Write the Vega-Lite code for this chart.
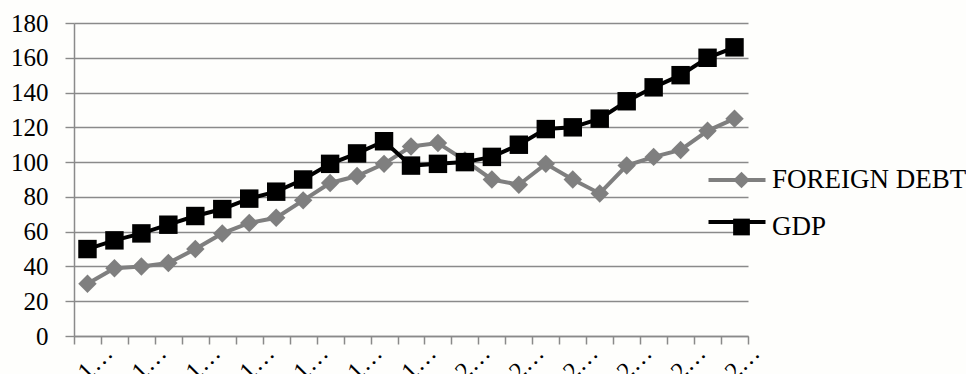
{
  "$schema": "https://vega.github.io/schema/vega-lite/v6.json",
  "width": 674,
  "height": 313,
  "autosize": {"type": "none"},
  "padding": {"left": 74, "top": 23, "right": 218, "bottom": 38},
  "background": "#fefefc",
  "config": {"view": {"stroke": null}, "font": "Liberation Serif, Times New Roman, serif"},
  "data": {
    "values": [
      {"year": "1986", "series": "FOREIGN DEBT", "value": 30},
      {"year": "1987", "series": "FOREIGN DEBT", "value": 39},
      {"year": "1988", "series": "FOREIGN DEBT", "value": 40},
      {"year": "1989", "series": "FOREIGN DEBT", "value": 42},
      {"year": "1990", "series": "FOREIGN DEBT", "value": 50},
      {"year": "1991", "series": "FOREIGN DEBT", "value": 59},
      {"year": "1992", "series": "FOREIGN DEBT", "value": 65},
      {"year": "1993", "series": "FOREIGN DEBT", "value": 68},
      {"year": "1994", "series": "FOREIGN DEBT", "value": 78},
      {"year": "1995", "series": "FOREIGN DEBT", "value": 88},
      {"year": "1996", "series": "FOREIGN DEBT", "value": 92},
      {"year": "1997", "series": "FOREIGN DEBT", "value": 99},
      {"year": "1998", "series": "FOREIGN DEBT", "value": 109},
      {"year": "1999", "series": "FOREIGN DEBT", "value": 111},
      {"year": "2000", "series": "FOREIGN DEBT", "value": 101},
      {"year": "2001", "series": "FOREIGN DEBT", "value": 90},
      {"year": "2002", "series": "FOREIGN DEBT", "value": 87},
      {"year": "2003", "series": "FOREIGN DEBT", "value": 99},
      {"year": "2004", "series": "FOREIGN DEBT", "value": 90},
      {"year": "2005", "series": "FOREIGN DEBT", "value": 82},
      {"year": "2006", "series": "FOREIGN DEBT", "value": 98},
      {"year": "2007", "series": "FOREIGN DEBT", "value": 103},
      {"year": "2008", "series": "FOREIGN DEBT", "value": 107},
      {"year": "2009", "series": "FOREIGN DEBT", "value": 118},
      {"year": "2010", "series": "FOREIGN DEBT", "value": 125},
      {"year": "1986", "series": "GDP", "value": 50},
      {"year": "1987", "series": "GDP", "value": 55},
      {"year": "1988", "series": "GDP", "value": 59},
      {"year": "1989", "series": "GDP", "value": 64},
      {"year": "1990", "series": "GDP", "value": 69},
      {"year": "1991", "series": "GDP", "value": 73},
      {"year": "1992", "series": "GDP", "value": 79},
      {"year": "1993", "series": "GDP", "value": 83},
      {"year": "1994", "series": "GDP", "value": 90},
      {"year": "1995", "series": "GDP", "value": 99},
      {"year": "1996", "series": "GDP", "value": 105},
      {"year": "1997", "series": "GDP", "value": 112},
      {"year": "1998", "series": "GDP", "value": 98},
      {"year": "1999", "series": "GDP", "value": 99},
      {"year": "2000", "series": "GDP", "value": 100},
      {"year": "2001", "series": "GDP", "value": 103},
      {"year": "2002", "series": "GDP", "value": 110},
      {"year": "2003", "series": "GDP", "value": 119},
      {"year": "2004", "series": "GDP", "value": 120},
      {"year": "2005", "series": "GDP", "value": 125},
      {"year": "2006", "series": "GDP", "value": 135},
      {"year": "2007", "series": "GDP", "value": 143},
      {"year": "2008", "series": "GDP", "value": 150},
      {"year": "2009", "series": "GDP", "value": 160},
      {"year": "2010", "series": "GDP", "value": 166}
    ]
  },
  "encoding": {
    "x": {
      "field": "year",
      "type": "ordinal",
      "scale": {"type": "band", "paddingInner": 0, "paddingOuter": 0},
      "axis": {
        "title": null,
        "tickBand": "extent",
        "domainColor": "#8a8a8a",
        "domainWidth": 1.5,
        "tickColor": "#8a8a8a",
        "tickWidth": 1.5,
        "tickSize": 8,
        "labelAngle": -45,
        "labelOffset": 12,
        "labelPadding": -4,
        "labelFont": "Liberation Serif, Times New Roman, serif",
        "labelFontSize": 25,
        "labelColor": "#000000",
        "labelLimit": 42,
        "labelExpr": "toNumber(datum.value) % 2 === 0 ? datum.label : ''",
        "grid": false
      }
    },
    "y": {
      "field": "value",
      "type": "quantitative",
      "scale": {"domain": [0, 180], "nice": false},
      "axis": {
        "title": null,
        "values": [0, 20, 40, 60, 80, 100, 120, 140, 160, 180],
        "grid": true,
        "gridColor": "#8a8a8a",
        "gridWidth": 1.4,
        "domainColor": "#8a8a8a",
        "domainWidth": 1.5,
        "tickColor": "#8a8a8a",
        "tickWidth": 1.4,
        "tickSize": 9,
        "labelPadding": 17,
        "labelFont": "Liberation Serif, Times New Roman, serif",
        "labelFontSize": 25,
        "labelColor": "#000000"
      }
    }
  },
  "layer": [
    {
      "mark": {"type": "line", "strokeWidth": 4},
      "encoding": {
        "stroke": {
          "field": "series",
          "type": "nominal",
          "scale": {"range": ["#7f7f7f", "#000000"]},
          "legend": {
            "title": null,
            "orient": "right",
            "offset": -168,
            "padding": 140,
            "symbolType": "M-1.9,0L1.9,0",
            "symbolSize": 900,
            "symbolStrokeWidth": 4,
            "rowPadding": 12,
            "labelOpacity": 0,
            "labelFontSize": 25,
            "labelFont": "Liberation Serif, Times New Roman, serif"
          }
        }
      }
    },
    {
      "mark": {"type": "point", "filled": true, "opacity": 1, "size": 340},
      "encoding": {
        "color": {
          "field": "series",
          "type": "nominal",
          "scale": {"domain": ["FOREIGN DEBT", "GDP"], "range": ["#7f7f7f", "#000000"]},
          "legend": {
            "title": null,
            "orient": "none",
            "legendX": 654,
            "legendY": 143.5,
            "padding": 0,
            "symbolSize": 280,
            "rowPadding": 19,
            "labelOffset": 17,
            "labelFont": "Liberation Serif, Times New Roman, serif",
            "labelFontSize": 27,
            "labelColor": "#000000",
            "labelLimit": 300
          }
        },
        "shape": {
          "field": "series",
          "type": "nominal",
          "scale": {"domain": ["FOREIGN DEBT", "GDP"], "range": ["diamond", "square"]},
          "legend": {
            "title": null,
            "orient": "none",
            "legendX": 654,
            "legendY": 143.5,
            "padding": 0,
            "symbolSize": 280,
            "rowPadding": 19,
            "labelOffset": 17,
            "labelFont": "Liberation Serif, Times New Roman, serif",
            "labelFontSize": 27,
            "labelColor": "#000000",
            "labelLimit": 300
          }
        }
      }
    }
  ]
}
